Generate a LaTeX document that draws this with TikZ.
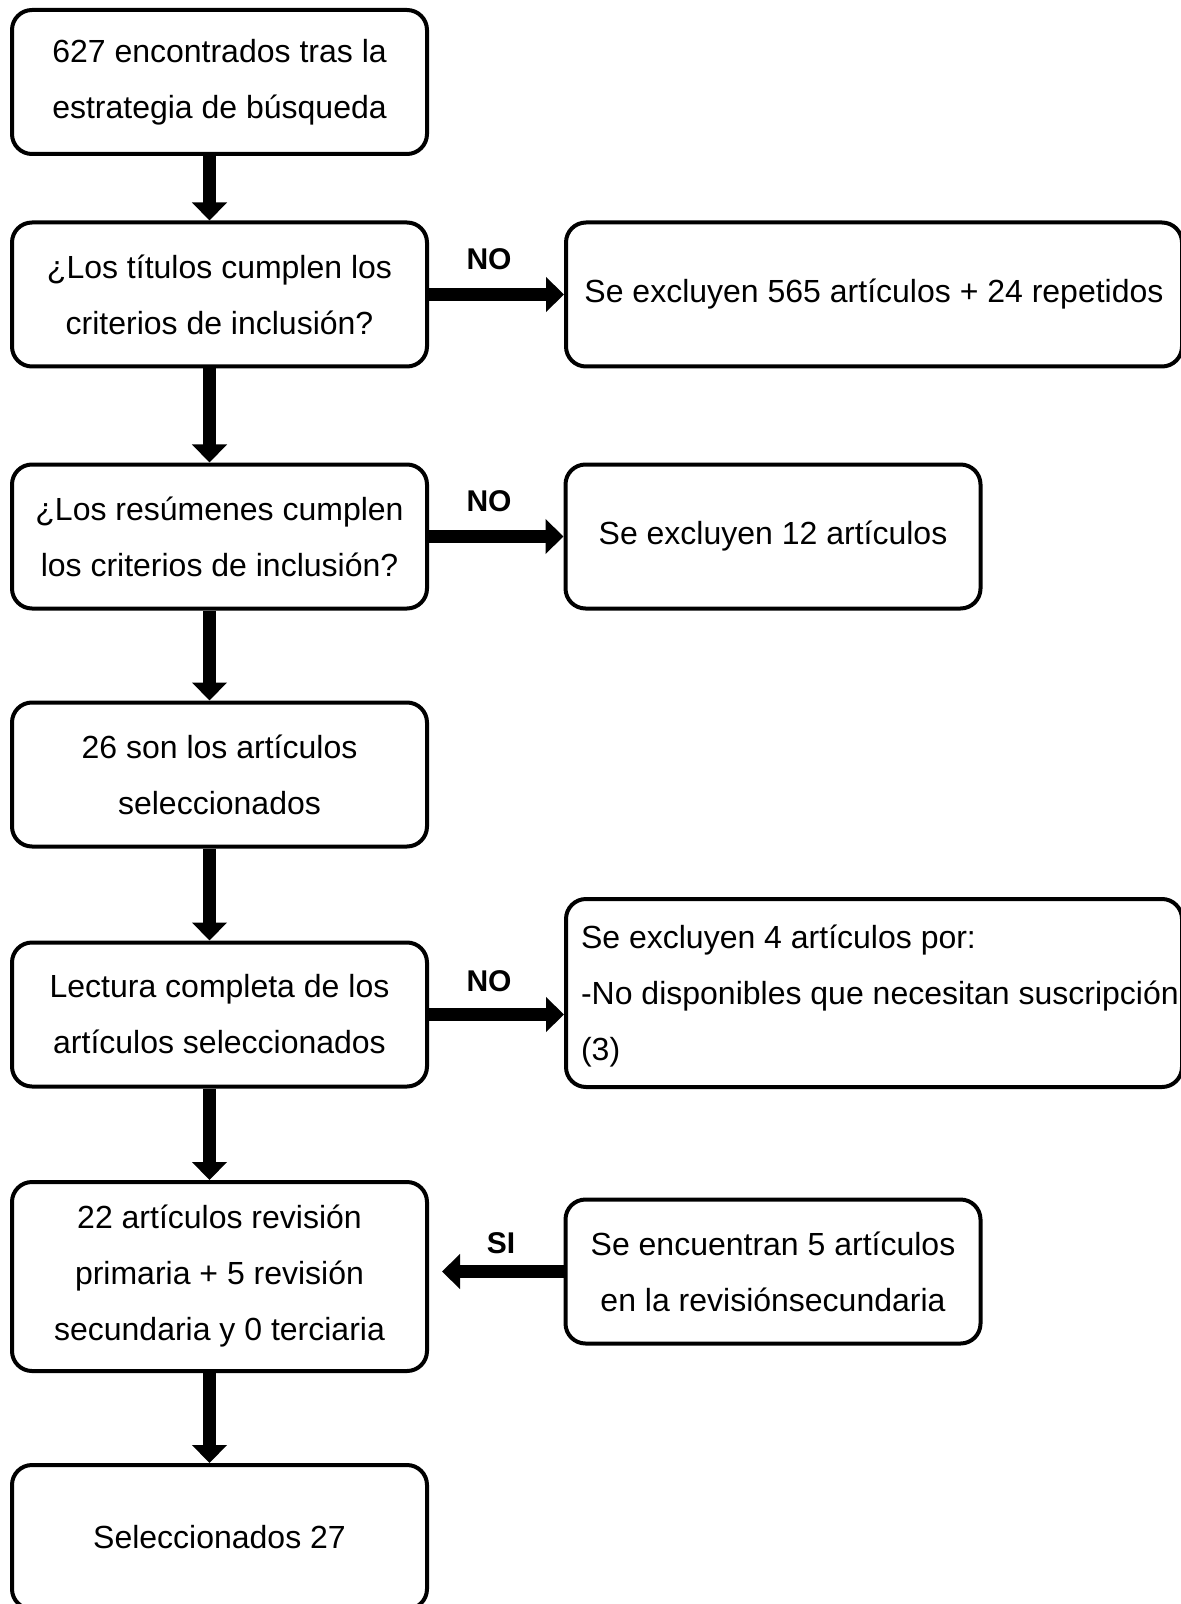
\documentclass[tikz,border=0pt]{standalone}
\usepackage{fontspec}
\setmainfont{Liberation Sans}
\usetikzlibrary{arrows.meta}

\begin{document}
\begin{tikzpicture}[x=0.5pt,y=-0.5pt,
  caja/.style={draw, line width=2pt, rounded corners=10pt, fill=white,
    minimum width=207.5pt, minimum height=72pt, align=center,
    font=\fontsize{16}{28}\selectfont},
  flecha/.style={line width=6.5pt, -{Triangle[width=17pt,length=9pt]}},
  etiq/.style={font=\fontsize{15}{17}\selectfont\bfseries}]
\useasboundingbox (0,0) rectangle (1181,1604);

\node[caja] (b1) at (219.5,82) {627 encontrados tras la\\estrategia de búsqueda};
\node[caja] (b2) at (219.5,294.5) {¿Los títulos cumplen los\\criterios de inclusión?};
\node[caja] (b3) at (219.5,536.5) {¿Los resúmenes cumplen\\los criterios de inclusión?};
\node[caja] (b4) at (219.5,774.5) {26 son los artículos\\seleccionados};
\node[caja] (b5) at (219.5,1014.5) {Lectura completa de los\\artículos seleccionados};
\node[caja, minimum height=94.5pt] (b6) at (219.5,1276.5) {22 artículos revisión\\primaria + 5 revisión\\secundaria y 0 terciaria};
\node[caja] (b7) at (219.5,1537) {Seleccionados 27};

\node[caja, minimum width=308pt] (r1) at (874,294.5) {Se excluyen 565 artículos + 24 repetidos};
\node[caja] (r2) at (773,536.5) {Se excluyen 12 artículos};
\node[caja, minimum width=308pt, minimum height=94pt] (r3) at (874,993) {};
\node[anchor=west, align=left, font=\fontsize{16}{28}\selectfont] (t3) at (574,996)
  {Se excluyen 4 artículos por:\\-No disponibles que necesitan suscripción\\(3)};
\node[caja] (r4) at (773,1271.5) {Se encuentran 5 artículos\\en la revisiónsecundaria};

\node[etiq] (no1) at (489,259) {NO};
\node[etiq] (no2) at (489,501) {NO};
\node[etiq] (no3) at (489,981) {NO};
\node[etiq] (si) at (501,1243) {SI};

\foreach \a/\b in {b1/b2,b2/b3,b3/b4,b4/b5,b5/b6,b6/b7}
  \draw[flecha] ([xshift=-5pt]\a.south) -- ([xshift=-5pt]\b.north);
\draw[flecha] (b2.east) -- (r1.west);
\draw[flecha] (b3.east) -- (r2.west);
\draw[flecha] (b5.east) -- (b5.east -| r3.west);
\coordinate (s) at ([xshift=6.5pt]b6.east);
\draw[flecha] (r4.west) -- (s |- r4.west);
\end{tikzpicture}
\end{document}
